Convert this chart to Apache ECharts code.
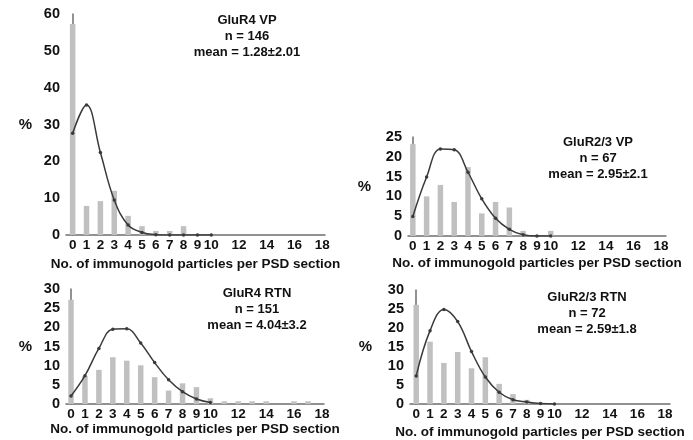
<!DOCTYPE html>
<html>
<head>
<meta charset="utf-8">
<script src="https://cdn.jsdelivr.net/npm/echarts@6/dist/echarts.min.js"></script>
<style>
html,body{margin:0;padding:0;background:#fff;}
#chart{width:693px;height:440px;}
</style>
</head>
<body>
<div id="chart"></div>
<script>
// particle counts on the x axis
var counts = [0,1,2,3,4,5,6,7,8,9,10,11,12,13,14,15,16,17,18];
var curveCounts = [0,1,2,3,4,5,6,7,8,9,10];
var xTickLabels = [0,1,2,3,4,5,6,7,8,9,10,12,14,16,18];

// GluR4 VP
var vpR4Bars  = [57.3,7.9,9.2,12.0,5.2,2.4,1.1,1.1,2.4,0,0,0,0,0,0,0,0,0,0];
var vpR4Curve = [27.6,35.3,22.4,9.5,2.7,0.7,0.1,0,0,0,0];
// GluR2/3 VP
var vpR23Bars  = [23.2,10.0,12.9,8.6,17.4,5.7,8.6,7.2,1.3,0,1.3,0,0,0,0,0,0,0,0];
var vpR23Curve = [4.9,14.9,22.0,21.8,16.1,9.4,4.5,1.7,0.3,0,0];
// GluR4 RTN
var rtnR4Bars  = [27.2,7.3,8.9,12.2,11.3,10.1,7.0,3.5,5.4,4.4,1.5,0.7,0.7,0.7,0.7,0,0.7,0.7,0];
var rtnR4Curve = [2.1,7.4,14.5,19.5,19.6,15.9,10.8,6.3,3.2,1.3,0.4];
// GluR2/3 RTN
var rtnR23Bars  = [26.1,16.4,10.8,13.7,9.4,12.3,5.3,2.6,1.1,0,0,0,0,0,0,0,0,0,0];
var rtnR23Curve = [7.4,19.3,24.9,21.7,13.8,7.1,3.1,1.1,0.5,0.1,0];

var panelTexts = [
    'GluR4 VP\nn = 146\nmean = 1.28±2.01',
    'GluR2/3 VP\nn = 67\nmean = 2.95±2.1',
    'GluR4 RTN\nn = 151\nmean = 4.04±3.2',
    'GluR2/3 RTN\nn = 72\nmean = 2.59±1.8'
];
var yMax = [60,25,30,30];
var yStep = [10,5,5,5];

var FONT = 'Liberation Sans, Arial, sans-serif';
var axisCol = '#6e6e6e';

var grids = [
    {left:66, right:368, top:14, bottom:205},
    {left:408, right:27, top:137, bottom:204},
    {left:66, right:369, top:289, bottom:36},
    {left:410, right:23, top:290, bottom:36}
];
var xMin = [-0.48,-0.35,-0.36,-0.45];
var xMax = [18.2,18.36,18.15,18.36];
var nameGapX = [20,20,17,21];
var nameGapY = [34,37,34,38];

function pairs(xs, ys){
    var out = [];
    for (var i = 0; i < xs.length; i++) out.push([xs[i], ys[i]]);
    return out;
}

var xAxes = [], yAxes = [], series = [];
var barSets = [vpR4Bars, vpR23Bars, rtnR4Bars, rtnR23Bars];
var curveSets = [vpR4Curve, vpR23Curve, rtnR4Curve, rtnR23Curve];

for (var p = 0; p < 4; p++) {
    xAxes.push({
        type:'value', gridIndex:p, min:xMin[p], max:xMax[p],
        name:'No. of immunogold particles per PSD section',
        nameLocation:'middle', nameGap:nameGapX[p],
        nameTextStyle:{fontFamily:FONT, fontWeight:'bold', fontSize:13.5, color:'#111'},
        axisLine:{show:true, onZero:false, lineStyle:{color:axisCol, width:1.5}},
        axisTick:{show:false},
        splitLine:{show:false},
        axisLabel:{
            customValues:xTickLabels, margin:3,
            fontFamily:FONT, fontWeight:'bold', fontSize:13.5, color:'#111'
        }
    });
    yAxes.push({
        type:'value', gridIndex:p, min:0, max:yMax[p], interval:yStep[p],
        name:'%', nameLocation:'middle', nameRotate:0, nameGap:nameGapY[p],
        nameTextStyle:{fontFamily:FONT, fontWeight:'bold', fontSize:15, color:'#111'},
        axisLine:{show:true, lineStyle:{color:axisCol, width:1.5}},
        axisTick:{show:false},
        splitLine:{show:false},
        axisLabel:{margin:6, fontFamily:FONT, fontWeight:'bold', fontSize:14.5, color:'#111'}
    });
    series.push({
        type:'bar', xAxisIndex:p, yAxisIndex:p,
        data:pairs(counts, barSets[p]),
        barWidth:5.5, itemStyle:{color:'#c0c0c0'},
        silent:true
    });
    series.push({
        type:'line', xAxisIndex:p, yAxisIndex:p,
        data:pairs(curveCounts, curveSets[p]),
        smooth:0.4, symbol:'circle', symbolSize:3.5,
        lineStyle:{color:'#3a3a3a', width:1.5},
        itemStyle:{color:'#3a3a3a'},
        silent:true
    });
}

var labelPos = [[247,12],[598,134],[257,285],[587,289]];
var graphics = [];
for (var k = 0; k < 4; k++) {
    graphics.push({
        type:'text', x:labelPos[k][0], y:labelPos[k][1],
        style:{
            text:panelTexts[k], textAlign:'center',
            font:'bold 13px ' + FONT, lineHeight:16, fill:'#111'
        }
    });
}

var myChart = echarts.init(document.getElementById('chart'));
myChart.setOption({
    animation:false,
    backgroundColor:'#fff',
    grid:grids,
    xAxis:xAxes,
    yAxis:yAxes,
    series:series,
    graphic:graphics
});
</script>
</body>
</html>
